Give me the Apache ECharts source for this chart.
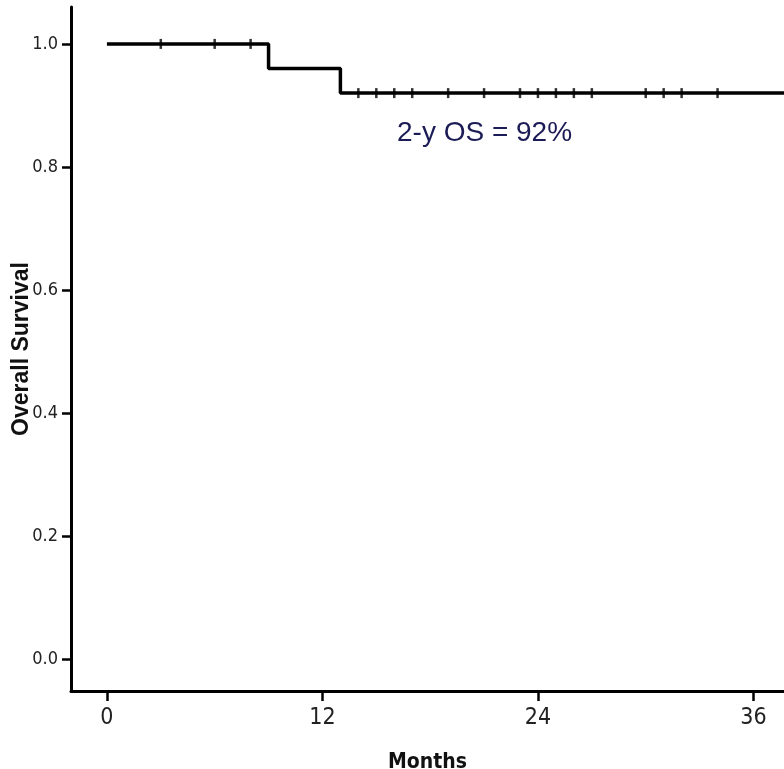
<!DOCTYPE html>
<html>
<head>
<meta charset="utf-8">
<title>Overall Survival</title>
<script src="https://cdn.jsdelivr.net/npm/echarts@6/dist/echarts.min.js"></script>
<style>
    html, body { margin: 0; padding: 0; background: #fff; }
    #chart { width: 784px; height: 769px; }
</style>
</head>
<body>
<div id="chart"></div>
<script>
// Kaplan-Meier steps (months, survival)
var stepMonths = [0, 9, 13, 37.7];
var stepSurvival = [1.0, 0.96, 0.92, 0.92];
// censored patients (months)
var censorMonths = [3, 6, 8, 14, 15, 16, 17, 19, 21, 23, 24, 25, 26, 27, 30, 31, 32, 34];
var xTicks = [0, 12, 24, 36];
var yTicks = [0, 0.2, 0.4, 0.6, 0.8, 1.0];
var noteText = '2-y OS = 92%';

var narrowFont = '"Liberation Sans Narrow", "DejaVu Sans Condensed", "Liberation Sans", sans-serif';

// survival at time t
function survivalAt(t) {
    var s = stepSurvival[0];
    for (var i = 0; i < stepMonths.length; i++) {
        if (stepMonths[i] <= t) s = stepSurvival[i];
    }
    return s;
}

var curveData = stepMonths.map(function (m, i) { return [m, stepSurvival[i]]; });
var censorData = censorMonths.map(function (m) { return [m, survivalAt(m)]; });

var chart = echarts.init(document.getElementById('chart'), null, { renderer: 'canvas' });

var option = {
    animation: false,
    grid: {
        left: 71,
        right: 0,
        top: 7,
        bottom: 78,
        containLabel: false,
        outerBoundsMode: 'none'
    },
    xAxis: {
        type: 'value',
        min: -2,
        max: 37.7,
        name: 'Months',
        nameLocation: 'middle',
        nameGap: 61,
        nameTextStyle: {
            color: '#111',
            fontFamily: narrowFont,
            fontWeight: 'bold',
            fontSize: 21
        },
        splitLine: { show: false },
        axisLine: {
            onZero: false,
            lineStyle: { color: '#000', width: 3 }
        },
        axisTick: {
            customValues: xTicks,
            length: 10,
            lineStyle: { color: '#000', width: 2.5 }
        },
        axisLabel: {
            customValues: xTicks,
            margin: 16,
            color: '#222',
            fontFamily: narrowFont,
            fontSize: 23
        }
    },
    yAxis: {
        type: 'value',
        min: -0.052,
        max: 1.06,
        name: 'Overall Survival',
        nameLocation: 'middle',
        nameGap: 38,
        nameMoveOverlap: false,
        nameTextStyle: {
            color: '#111',
            fontFamily: '"Liberation Sans", Arial, sans-serif',
            fontWeight: 'bold',
            fontSize: 23
        },
        splitLine: { show: false },
        axisLine: {
            onZero: false,
            lineStyle: { color: '#000', width: 3 }
        },
        axisTick: {
            customValues: yTicks,
            length: 9,
            lineStyle: { color: '#000', width: 2.5 }
        },
        axisLabel: {
            customValues: yTicks,
            margin: 13,
            color: '#222',
            fontFamily: narrowFont,
            fontSize: 18,
            formatter: function (v) { return v.toFixed(1); }
        }
    },
    series: [
        {
            name: 'OS',
            type: 'line',
            step: 'end',
            data: curveData,
            showSymbol: false,
            symbol: 'none',
            lineStyle: { color: '#000', width: 3.5 },
            clip: true,
            z: 2
        },
        {
            name: 'Censored',
            type: 'scatter',
            data: censorData,
            symbol: 'rect',
            symbolSize: [2.5, 10],
            itemStyle: { color: '#000' },
            z: 3
        }
    ],
    graphic: [
        {
            type: 'text',
            left: 397,
            top: 119,
            style: {
                text: noteText,
                fill: '#1b1b55',
                font: '28px "Liberation Sans", Arial, sans-serif'
            }
        }
    ]
};

chart.setOption(option);
</script>
</body>
</html>
